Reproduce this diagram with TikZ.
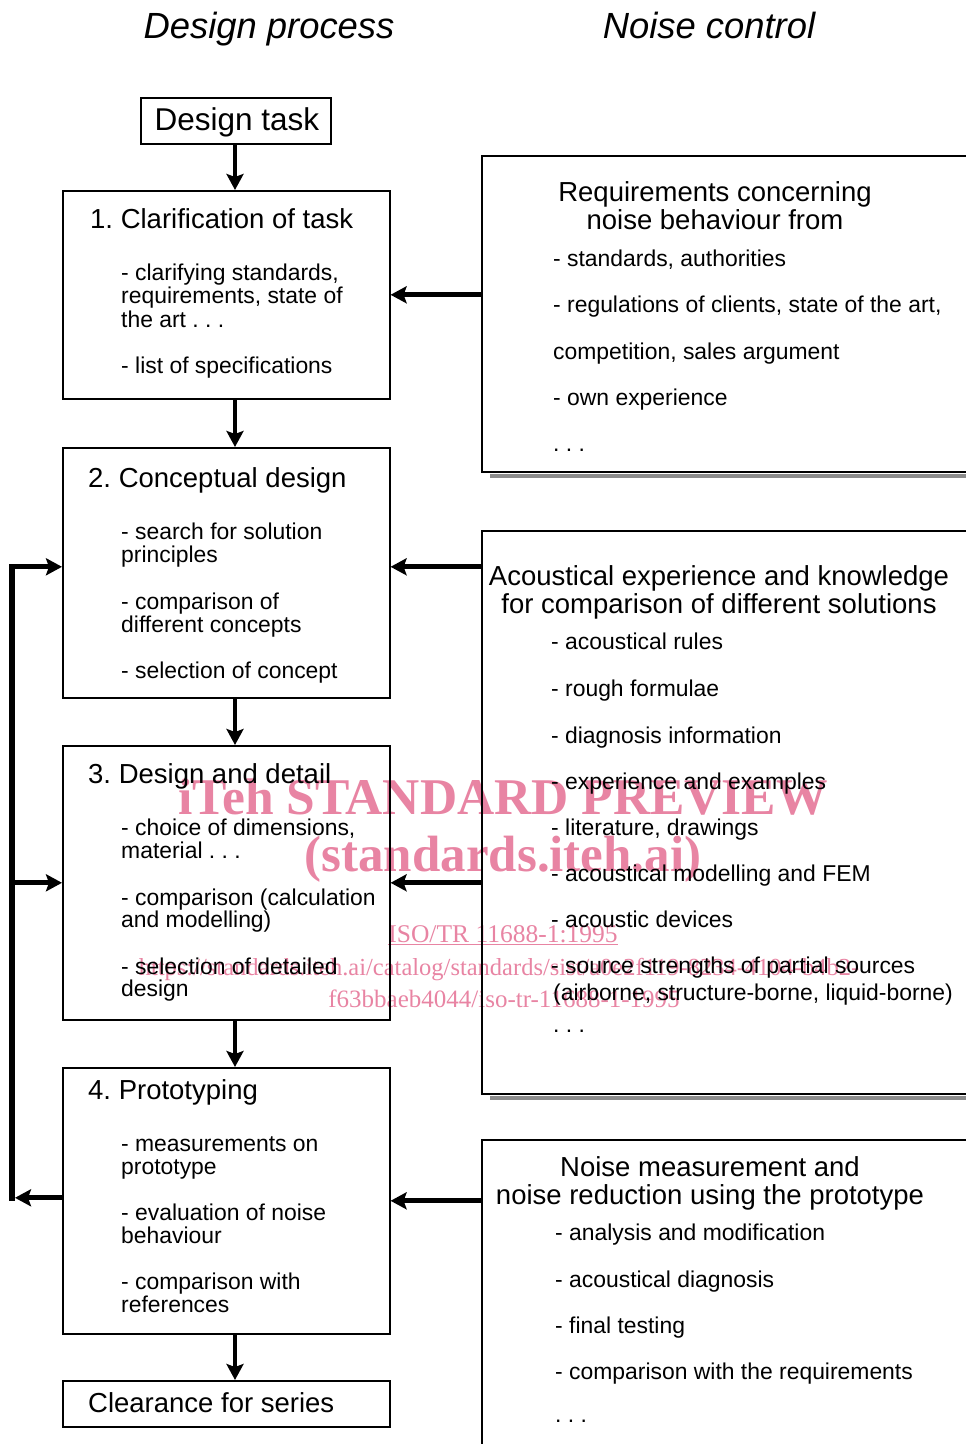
\documentclass[tikz,border=0pt]{standalone}
\usepackage{fontspec}
\setmainfont{Liberation Sans}
\newfontfamily\wmfont{Liberation Serif}
\usetikzlibrary{arrows.meta}
\definecolor{wmpink}{RGB}{232,132,163}
\newcommand\fsz[1]{\fontsize{#1}{#1}\selectfont\frenchspacing}
\begin{document}
\begin{tikzpicture}[x=1pt,y=-1pt,
  box/.style={draw, line width=1.6pt, inner sep=0pt, anchor=north west},
  arr/.style={line width=4.8pt, -{Stealth[length=16pt,width=17pt,inset=3pt]}},
  loopline/.style={line width=6pt, line cap=rect},
  shadowline/.style={line width=3.5pt, draw=black!45},
  it/.style={anchor=base west, inner sep=0pt, font=\fsz{22.9}},
  tt/.style={anchor=base west, inner sep=0pt, font=\fsz{27.5}},
  ct/.style={anchor=base, inner sep=0pt, font=\fsz{27.5}},
  wm/.style={anchor=base, inner sep=0pt, text=wmpink}]
\useasboundingbox (0,0) rectangle (966,1444);
\clip (0,0) rectangle (966,1444);

% watermark
\node[wm, font=\wmfont\bfseries\fsz{51.5}] (w1) at (503,814) {iTeh STANDARD PREVIEW};
\node[wm, font=\wmfont\bfseries\fsz{51}] (w2) at (503,871) {(standards.iteh.ai)};
\node[wm, font=\wmfont\fsz{25.5}] (w3) at (503,942) {\underline{ISO/TR 11688-1:1995}};
\node[wm, font=\wmfont\fsz{24.5}] (w4) at (499,975) {https://standards.iteh.ai/catalog/standards/sist/a0e2f119-8234-4104-b4b2-};
\node[wm, font=\wmfont\fsz{25}] (w5) at (504,1007) {f63bbaeb4044/iso-tr-11688-1-1995};

% headers
\node[anchor=base, inner sep=0pt, font=\itshape\fsz{36.4}] (h1) at (269,38) {Design process};
\node[anchor=base, inner sep=0pt, font=\itshape\fsz{36.4}] (h2) at (709,38) {Noise control};

% left boxes
\node[box, minimum width=190pt, minimum height=46pt] (dt) at (140,97) {};
\node[box, minimum width=327pt, minimum height=208pt] (b1) at (62,190) {};
\node[box, minimum width=327pt, minimum height=250pt] (b2) at (62,447) {};
\node[box, minimum width=327pt, minimum height=274pt] (b3) at (62,745) {};
\node[box, minimum width=327pt, minimum height=266pt] (b4) at (62,1067) {};
\node[box, minimum width=327pt, minimum height=46pt] (cl) at (62,1380) {};

% right boxes
\node[box, minimum width=520pt, minimum height=316pt] (r1) at (481,155) {};
\node[box, minimum width=520pt, minimum height=563pt] (r2) at (481,530) {};
\node[box, minimum width=520pt, minimum height=330pt] (r3) at (481,1139) {};
\draw[shadowline] ([xshift=9pt,yshift=-3.5pt]r1.south west) -- ([yshift=-3.5pt]r1.south east);
\draw[shadowline] ([xshift=9pt,yshift=-3.5pt]r2.south west) -- ([yshift=-3.5pt]r2.south east);

% texts of left boxes
\node[anchor=base, inner sep=0pt, font=\fsz{31.5}] (dtt) at (237,130) {Design task};

\node[tt] (b1t) at (90,228) {1. Clarification of task};
\node[it] (b1a) at (121,280) {- clarifying standards,};
\node[it] (b1b) at (121,303) {requirements, state of};
\node[it] (b1c) at (121,327) {the art . . .};
\node[it] (b1d) at (121,373) {- list of specifications};

\node[tt] (b2t) at (88,487) {2. Conceptual design};
\node[it] (b2a) at (121,539) {- search for solution};
\node[it] (b2b) at (121,562) {principles};
\node[it] (b2c) at (121,609) {- comparison of};
\node[it] (b2d) at (121,632) {different concepts};
\node[it] (b2e) at (121,678) {- selection of concept};

\node[tt] (b3t) at (88,783) {3. Design and detail};
\node[it] (b3a) at (121,835) {- choice of dimensions,};
\node[it] (b3b) at (121,858) {material . . .};
\node[it] (b3c) at (121,905) {- comparison (calculation};
\node[it] (b3d) at (121,927) {and modelling)};
\node[it] (b3e) at (121,974) {- selection of detailed};
\node[it] (b3f) at (121,996) {design};

\node[tt] (b4t) at (88,1099) {4. Prototyping};
\node[it] (b4a) at (121,1151) {- measurements on};
\node[it] (b4b) at (121,1174) {prototype};
\node[it] (b4c) at (121,1220) {- evaluation of noise};
\node[it] (b4d) at (121,1243) {behaviour};
\node[it] (b4e) at (121,1289) {- comparison with};
\node[it] (b4f) at (121,1312) {references};

\node[tt] (clt) at (88,1412) {Clearance for series};

% texts of right boxes
\node[ct] (r1t) at (715,201) {Requirements concerning};
\node[ct] (r1u) at (715,229) {noise behaviour from};
\node[it] (r1a) at (553,266) {- standards, authorities};
\node[it] (r1b) at (553,312) {- regulations of clients, state of the art,};
\node[it] (r1c) at (553,359) {competition, sales argument};
\node[it] (r1d) at (553,405) {- own experience};
\node[it] (r1e) at (553,451) {. . .};

\node[ct] (r2t) at (719,585) {Acoustical experience and knowledge};
\node[ct] (r2u) at (719,613) {for comparison of different solutions};
\node[it] (r2a) at (551,649) {- acoustical rules};
\node[it] (r2b) at (551,696) {- rough formulae};
\node[it] (r2c) at (551,743) {- diagnosis information};
\node[it] (r2d) at (551,789) {- experience and examples};
\node[it] (r2e) at (551,835) {- literature, drawings};
\node[it] (r2f) at (551,881) {- acoustical modelling and FEM};
\node[it] (r2g) at (551,927) {- acoustic devices};
\node[it] (r2h) at (551,973) {- source strengths of partial sources};
\node[it] (r2i) at (553,1000) {(airborne, structure-borne, liquid-borne)};
\node[it] (r2j) at (553,1032) {. . .};

\node[ct] (r3t) at (710,1176) {Noise measurement and};
\node[ct] (r3u) at (710,1204) {noise reduction using the prototype};
\node[it] (r3a) at (555,1240) {- analysis and modification};
\node[it] (r3b) at (555,1287) {- acoustical diagnosis};
\node[it] (r3c) at (555,1333) {- final testing};
\node[it] (r3d) at (555,1379) {- comparison with the requirements};
\node[it] (r3e) at (555,1422) {. . .};

% main flow arrows
\coordinate (ax) at (235,0);
\draw[arr] (dt.south -| ax) -- (b1.north -| ax);
\draw[arr] (b1.south -| ax) -- (b2.north -| ax);
\draw[arr] (b2.south -| ax) -- (b3.north -| ax);
\draw[arr] (b3.south -| ax) -- (b4.north -| ax);
\draw[arr] (b4.south -| ax) -- (cl.north -| ax);

% noise-control inputs
\coordinate (c2e) at ([yshift=6pt]b2.east);
\draw[arr] (r1.west |- b1.east) -- (b1.east);
\draw[arr] (r2.west |- c2e) -- (c2e);
\draw[arr] (r2.west |- b3.east) -- (b3.east);
\draw[arr] (r3.west |- b4.east) -- (b4.east);

% feedback loop
\coordinate (lx) at (12,0);
\coordinate (lxa) at (15,0);
\coordinate (c2w) at ([yshift=6pt]b2.west);
\coordinate (c4w) at ([yshift=3pt]b4.west);
\draw[loopline] (c4w -| lx) -- (c2w -| lx);
\draw[arr] (c4w) -- (c4w -| lxa);
\draw[arr] (c2w -| lx) -- (c2w);
\draw[arr] (b3.west -| lx) -- (b3.west);
\end{tikzpicture}
\end{document}
